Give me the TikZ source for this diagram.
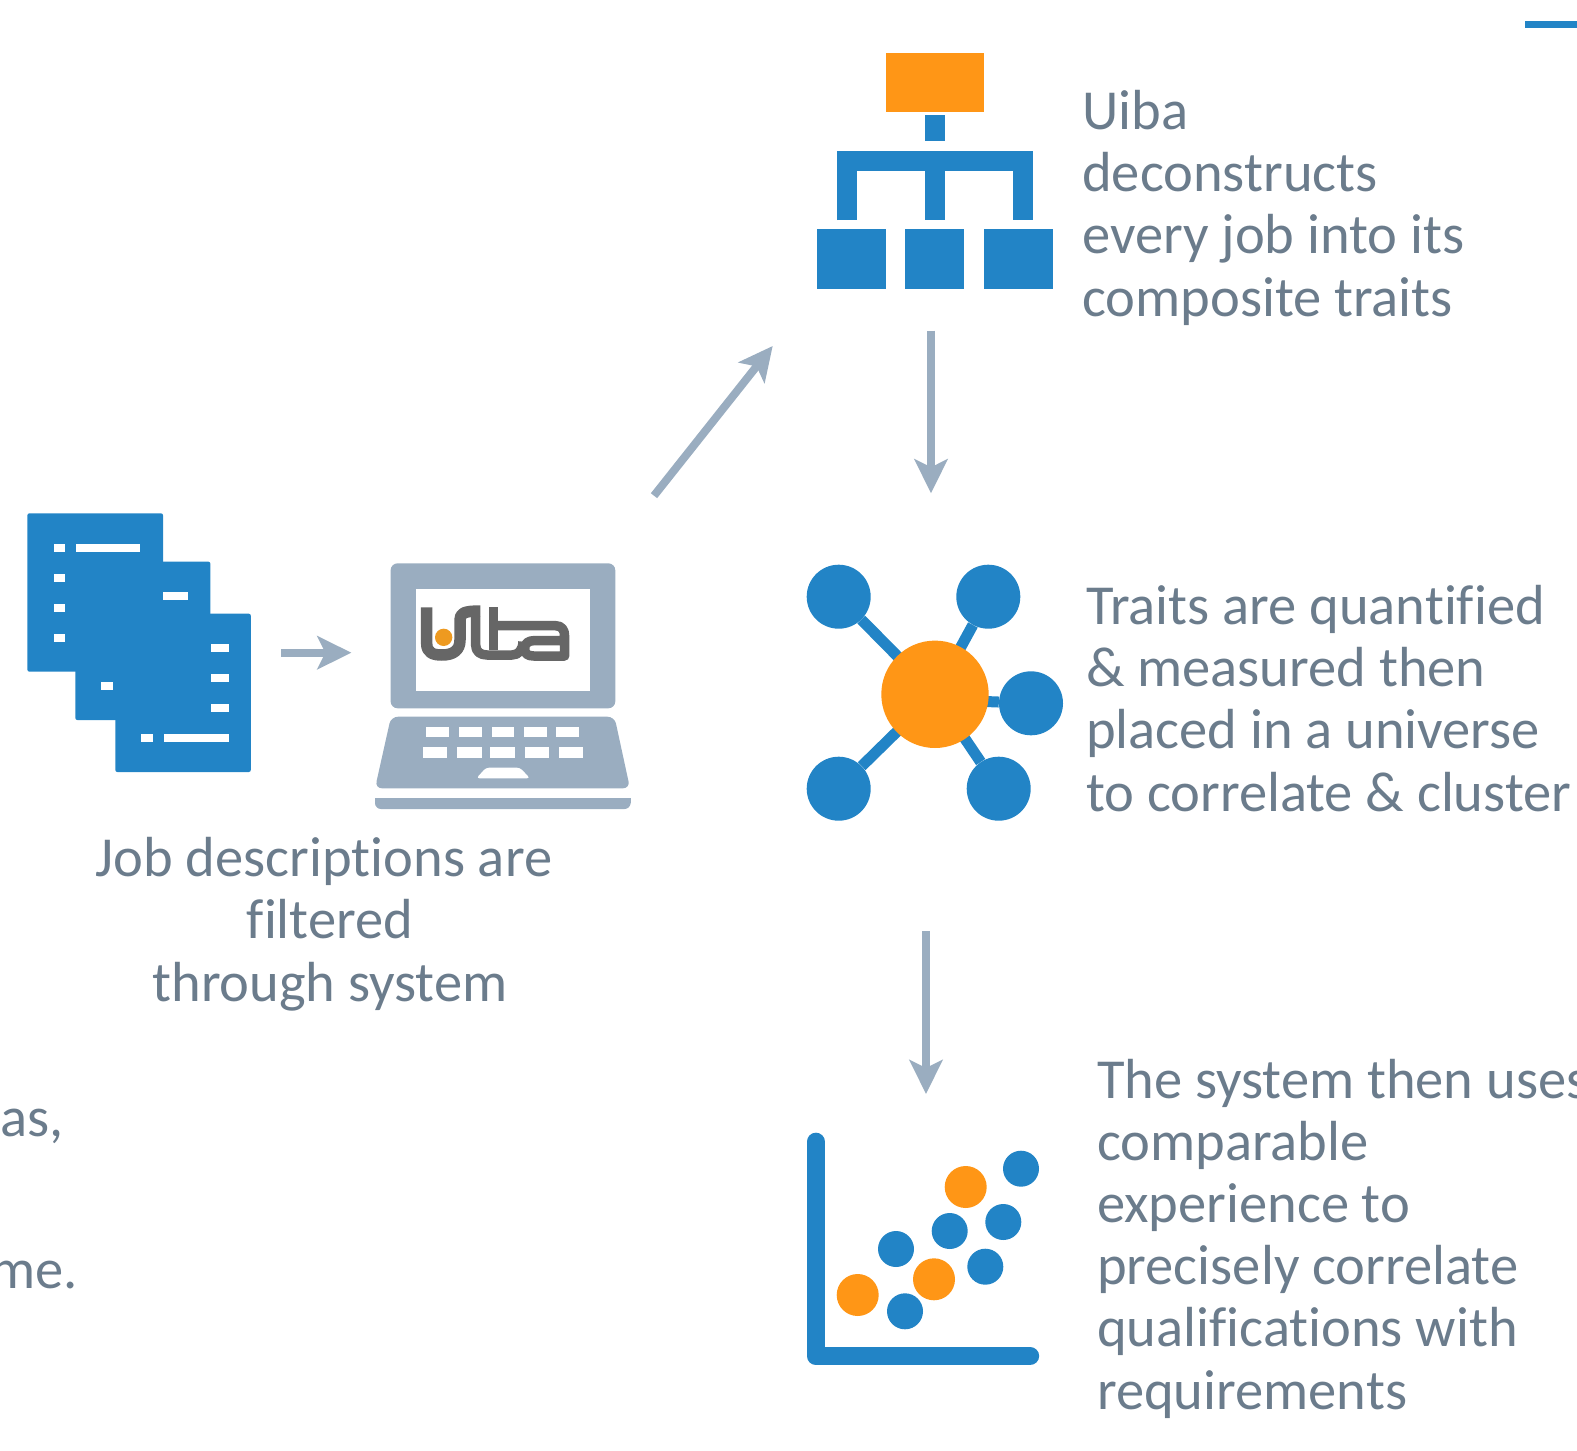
\documentclass[tikz,border=0pt]{standalone}
\usepackage{fontspec}
\setmainfont[Ligatures=NoCommon]{Carlito}
\usetikzlibrary{arrows.meta}
\definecolor{uibablue}{HTML}{2284C6}
\definecolor{uibaorange}{HTML}{FF9616}
\definecolor{slate}{HTML}{9AADC0}
\definecolor{inkgrey}{HTML}{6B7C8C}
\definecolor{logogrey}{HTML}{666666}
\definecolor{logodot}{HTML}{EE9A20}
\tikzset{
  caption/.style={text=inkgrey,inner sep=0pt,font=\fontsize{56.5}{62.2}\selectfont},
  flow/.style={draw=slate,line width=8pt,-{Stealth[length=34pt,width=33pt,inset=8pt]}},
  blueblob/.style={circle,fill=uibablue,inner sep=0pt,minimum size=64pt},
  dotblue/.style={circle,fill=uibablue,inner sep=0pt,minimum size=36pt},
  dotorange/.style={circle,fill=uibaorange,inner sep=0pt,minimum size=42pt},
  leafbox/.style={fill=uibablue,inner sep=0pt,minimum height=59.4pt},
  link/.style={draw=uibablue,line width=11pt},
  branch/.style={draw=uibablue,line width=20pt},
  logostroke/.style={draw=logogrey,line width=9.5pt,line join=round}
}
\begin{document}
\begin{tikzpicture}[x=1pt,y=-1pt]
  \useasboundingbox (0,0) rectangle (1577,1451);
  \fill[uibablue] (1525,21) rectangle (1577,28);

  % documents
  \foreach \xa/\ya/\xb/\yb in {27.4/513.3/163/671.7,75.3/561.7/210.4/720,115.3/613.7/250.8/772}
    \fill[uibablue,rounded corners=2pt] (\xa,\ya) rectangle (\xb,\yb);
  \foreach \xa/\ya/\xb in {53.5/547.7/65.2,76.2/547.7/140,53.5/577.7/65.2,53.5/607.7/65.2,53.5/637.7/65.2,
      163/595.7/188,101.4/686.3/112.8,210.9/647.7/228.5,210.9/678/228.5,210.9/708/228.5,
      141.4/738/152.8,164/738/228.5}
    \fill[white] (\xa,\ya-4) rectangle (\xb,\ya+4);

  % laptop
  \fill[slate,rounded corners=7pt] (390.6,708.3) -- (390.6,563.3) -- (615.3,563.3) -- (615.3,708.3) -- cycle;
  \fill[white] (415.8,589) rectangle (590,691);
  \fill[slate,rounded corners=7pt] (391,716.7) -- (614.5,716.7) -- (630,788.3) -- (375,788.3) -- cycle;
  \fill[slate,rounded corners=6pt] (375,798.3) -- (630.5,798.3) -- (630.5,809) -- (375,809) -- cycle;
  \fill[slate] (375,798.3) rectangle (630.5,803);
  \foreach \xa/\xb in {426.4/449,458.8/481.5,491.6/514.3,524/547,556.4/579}
    \fill[white] (\xa,727.3) rectangle (\xb,737.3);
  \foreach \xa/\xb in {422.6/447,457/481.5,490.3/515,524.8/549.2,559/583.3}
    \fill[white] (\xa,747.3) rectangle (\xb,757.7);
  \fill[white,rounded corners=3pt] (476.4,778.3) -- (486,767.7) -- (520,767.7) -- (530,778.3) -- cycle;

  % logo on the screen
  \begin{scope}[shift={(412,600)},x=0.3333pt,y=-0.3333pt]
    \draw[logostroke,line width=11.5pt] (44,22) -- (44,130) .. controls (44,160) and (65,165) .. (90,165)
      .. controls (125,165) and (144,150) .. (144,120) -- (144,60) .. controls (144,40) and (155,33) .. (205,33);
    \draw[logostroke] (191,50) -- (191,135) .. controls (191,155) and (205,165) .. (225,165) -- (300,165)
      .. controls (320,165) and (332,150) .. (333,125);
    \draw[logostroke] (245,22) -- (245,150);
    \draw[logostroke] (245,77) -- (430,77) .. controls (450,77) and (458,90) .. (458,110) -- (458,168) -- (365,168)
      .. controls (345,168) and (338,160) .. (338,145) .. controls (338,130) and (350,122) .. (365,122) -- (458,122);
    \fill[logodot] (95,112) circle (26);
  \end{scope}

  % hierarchy
  \node[fill=uibaorange,inner sep=0pt,minimum width=98.3pt,minimum height=59pt] (root) at (934.9,82.2) {};
  \node[leafbox,minimum width=69pt] (leafa) at (851.2,259) {};
  \node[leafbox,minimum width=59.3pt] (leafb) at (934.6,259) {};
  \node[leafbox,minimum width=68.7pt] (leafc) at (1018.4,259) {};
  \fill[uibablue] (925,115) rectangle (945,141);
  \draw[branch] (846.7,220) -- (846.7,161) -- (1023.3,161) -- (1023.3,220);
  \draw[branch] (935,161) -- (935,220);

  % network
  \node[blueblob] (na) at (838.7,596.7) {};
  \node[blueblob] (nb) at (988.3,596.7) {};
  \node[blueblob] (nc) at (1031,703.3) {};
  \node[blueblob] (nd) at (838.7,788.7) {};
  \node[blueblob] (ne) at (998.7,788.7) {};
  \coordinate (hubc) at (935,694.3);
  \coordinate (hubr) at (935,699.5);
  \foreach \from/\to in {hubc/na,hubc/nb,hubr/nc,hubc/nd,hubc/ne}
    \draw[link] (\from) -- (\to);
  \node[circle,fill=uibaorange,inner sep=0pt,minimum size=107.4pt] (hub) at (hubc) {};

  % scatter chart
  \draw[draw=uibablue,line width=18.3pt,line cap=round,line join=round] (815.8,1141.8) -- (815.8,1356) -- (1030,1356);
  \foreach \x/\y in {1021/1168.7,1003.3/1222,949.7/1231,896/1249,985.3/1266.7,905/1311.3}
    \node[dotblue] at (\x,\y) {};
  \foreach \x/\y in {965.7/1187,934/1279.3,857.7/1295}
    \node[dotorange] at (\x,\y) {};

  % arrows
  \coordinate (fa) at (281,652.7);
  \coordinate (fb) at (351.4,652.7);
  \coordinate (fc) at (654,495.7);
  \coordinate (fd) at (772.7,346);
  \coordinate (fe) at (931,330.7);
  \coordinate (ff) at (931,493.3);
  \coordinate (fg) at (926,931);
  \coordinate (fh) at (926,1094);
  \foreach \from/\to in {fa/fb,fc/fd,fe/ff,fg/fh}
    \draw[flow] (\from) -- (\to);

  % texts
  \node[caption,anchor=base west,align=left] (tdecon) at (1082,316)
    {Uiba\\deconstructs\\every job into its\\composite traits};
  \node[caption,anchor=base west,align=left] (tquant) at (1086,811)
    {Traits are quantified\\\& measured then\\placed in a universe\\to correlate \& cluster};
  \node[caption,anchor=base west,align=left] (tsys) at (1097,1409)
    {The system then uses\\comparable\\experience to\\precisely correlate\\qualifications with\\requirements};
  \node[caption,anchor=base,align=center] (tjob) at (330,1001)
    {Job descriptions are\hspace*{12pt}\\filtered\\through system};
  \node[caption,anchor=base east] (tas) at (64,1136) {as,};
  \node[caption,anchor=base east] (tme) at (78,1288) {me.};
\end{tikzpicture}
\end{document}
